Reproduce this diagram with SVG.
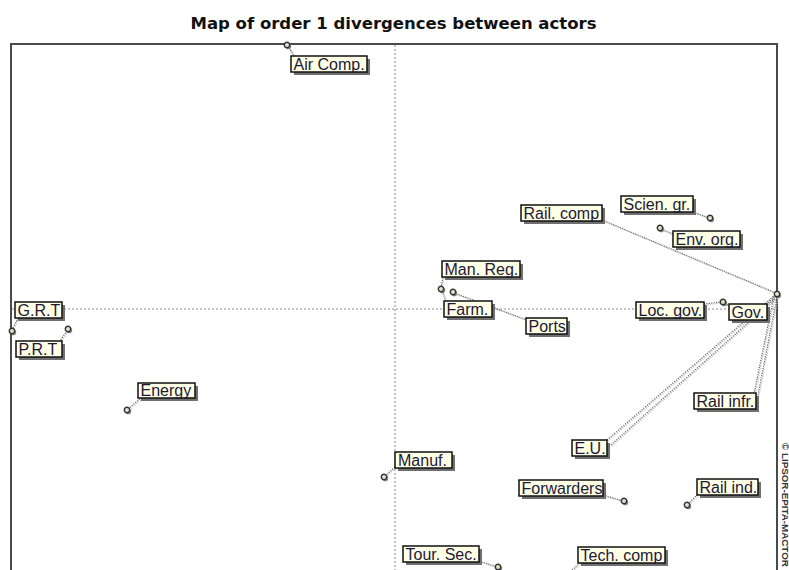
<svg xmlns="http://www.w3.org/2000/svg" xmlns:xlink="http://www.w3.org/1999/xlink" width="789" height="570" viewBox="0 0 789 570">
  <style>
    .title { font-family: "DejaVu Sans", "Liberation Sans", sans-serif; font-weight: bold; font-size: 15px; fill: #111; }
    .frame { stroke: #4a4a4a; stroke-width: 2; fill: none; }
    .axis { stroke: #8c8c8c; stroke-width: 1; stroke-dasharray: 2 2; fill: none; }
    .box { fill: #ffffe6; stroke: #111; stroke-width: 1.5; }
    .shadow { fill: #707070; filter: url(#soft); }
    .lbl { font-family: "Liberation Sans", Arial, sans-serif; font-size: 16px; fill: #1c1838; }
    .lead { stroke: #666; stroke-width: 1.2; stroke-dasharray: 1.2 1.2; fill: none; }
    .copy { font-family: "Liberation Sans", Arial, sans-serif; font-weight: bold; font-size: 9.8px; fill: #333; }
  </style>
  <defs>
    <filter id="soft" x="-20%" y="-20%" width="140%" height="140%">
      <feGaussianBlur stdDeviation="0.7"/>
    </filter>
    <filter id="lineShadow" x="-5%" y="-5%" width="110%" height="110%">
      <feOffset in="SourceAlpha" dx="1.2" dy="1.2" result="off"/>
      <feFlood flood-color="#c4c4c4"/>
      <feComposite in2="off" operator="in" result="sh"/>
      <feMerge>
        <feMergeNode in="sh"/>
        <feMergeNode in="SourceGraphic"/>
      </feMerge>
    </filter>
    <!-- actor position marker -->
    <g id="dot">
      <circle cx="1.4" cy="1.4" r="2.8" fill="#8a8a8a"/>
      <circle cx="0" cy="0" r="2.7" fill="#e2e2cc" stroke="#333" stroke-width="1.4"/>
    </g>
  </defs>

  <rect width="789" height="570" fill="#ffffff"/>

  <text class="title" x="393.5" y="29" text-anchor="middle" textLength="406" lengthAdjust="spacingAndGlyphs">Map of order 1 divergences between actors</text>

  <!-- axes through the centre of the map -->
  <g id="axes">
    <line class="axis" x1="395" y1="45" x2="395" y2="570"/>
    <line class="axis" x1="12" y1="309" x2="776" y2="309"/>
  </g>

  <!-- plot frame -->
  <g id="frame">
    <path class="frame" d="M11,570 V44 H777 V570"/>
  </g>

  <text class="copy" transform="translate(781.5,443) rotate(90)">© LIPSOR-EPITA-MACTOR</text>

  <!-- leader lines and divergence links -->
  <g id="connectors" filter="url(#lineShadow)">
    <line class="lead" x1="288" y1="46" x2="294" y2="56"/>
    <line class="lead" x1="12" y1="330" x2="18" y2="318"/>
    <line class="lead" x1="67" y1="331" x2="60" y2="341"/>
    <line class="lead" x1="128" y1="409" x2="141" y2="398"/>
    <line class="lead" x1="441" y1="288" x2="443" y2="277"/>
    <line class="lead" x1="442" y1="291" x2="446" y2="301"/>
    <line class="lead" x1="454" y1="293" x2="527" y2="320"/>
    <line class="lead" x1="602" y1="220" x2="776" y2="293"/>
    <line class="lead" x1="693" y1="212" x2="709" y2="218"/>
    <line class="lead" x1="661" y1="229" x2="673" y2="234"/>
    <line class="lead" x1="704" y1="304" x2="721" y2="302"/>
    <line class="lead" x1="725" y1="303" x2="730" y2="307"/>
    <line class="lead" x1="776" y1="295" x2="766" y2="305"/>
    <line class="lead" x1="607" y1="440" x2="775" y2="295"/>
    <line class="lead" x1="611" y1="445" x2="777" y2="297"/>
    <line class="lead" x1="754" y1="394" x2="774" y2="296"/>
    <line class="lead" x1="758" y1="395" x2="777" y2="297"/>
    <line class="lead" x1="385" y1="476" x2="395" y2="467"/>
    <line class="lead" x1="603" y1="495" x2="623" y2="501"/>
    <line class="lead" x1="688" y1="504" x2="698" y2="494"/>
    <line class="lead" x1="479" y1="561" x2="497" y2="567"/>
    <line class="lead" x1="580" y1="563" x2="572" y2="570"/>
  </g>

  <!-- actors -->
  <g id="air-comp">
    <use xlink:href="#dot" x="287" y="45"/>
    <rect class="shadow" x="294" y="59" width="76" height="16"/>
    <rect class="box" x="291" y="56" width="76" height="16"/>
    <text class="lbl" x="293.5" y="69.5">Air Comp.</text>
  </g>

  <g id="grt">
    <use xlink:href="#dot" x="12" y="331"/>
    <rect class="shadow" x="18" y="305" width="47" height="16"/>
    <rect class="box" x="15" y="302" width="47" height="16"/>
    <text class="lbl" x="17.5" y="315.5">G.R.T</text>
  </g>

  <g id="prt">
    <use xlink:href="#dot" x="68" y="329"/>
    <rect class="shadow" x="19" y="344" width="46" height="16"/>
    <rect class="box" x="16" y="341" width="46" height="16"/>
    <text class="lbl" x="18.5" y="354.5">P.R.T</text>
  </g>

  <g id="energy">
    <use xlink:href="#dot" x="127" y="410"/>
    <rect class="shadow" x="141" y="386" width="57" height="15"/>
    <rect class="box" x="138" y="383" width="57" height="15"/>
    <text class="lbl" x="140.5" y="396">Energy</text>
  </g>

  <g id="man-reg">
    <use xlink:href="#dot" x="441" y="289"/>
    <rect class="shadow" x="445" y="264" width="78" height="16"/>
    <rect class="box" x="442" y="261" width="78" height="16"/>
    <text class="lbl" x="444.5" y="274.5">Man. Reg.</text>
  </g>

  <g id="farm">
    <rect class="shadow" x="447" y="304" width="48" height="16"/>
    <rect class="box" x="444" y="301" width="48" height="16"/>
    <text class="lbl" x="446.5" y="314.5">Farm.</text>
  </g>

  <g id="ports">
    <use xlink:href="#dot" x="453" y="292"/>
    <rect class="shadow" x="529" y="321" width="41" height="16"/>
    <rect class="box" x="526" y="318" width="41" height="16"/>
    <text class="lbl" x="528.5" y="331.5">Ports</text>
  </g>

  <g id="rail-comp">
    <rect class="shadow" x="524" y="208" width="81" height="16"/>
    <rect class="box" x="521" y="205" width="81" height="16"/>
    <text class="lbl" x="523.5" y="218.5">Rail. comp</text>
  </g>

  <g id="scien-gr">
    <use xlink:href="#dot" x="710" y="218"/>
    <rect class="shadow" x="624" y="199" width="72" height="16"/>
    <rect class="box" x="621" y="196" width="72" height="16"/>
    <text class="lbl" x="623.5" y="209.5">Scien. gr.</text>
  </g>

  <g id="env-org">
    <use xlink:href="#dot" x="660" y="228"/>
    <rect class="shadow" x="676" y="234" width="67" height="16"/>
    <rect class="box" x="673" y="231" width="67" height="16"/>
    <text class="lbl" x="675.5" y="244.5">Env. org.</text>
  </g>

  <g id="loc-gov">
    <use xlink:href="#dot" x="723" y="302"/>
    <rect class="shadow" x="639" y="305" width="68" height="16"/>
    <rect class="box" x="636" y="302" width="68" height="16"/>
    <text class="lbl" x="638.5" y="315.5">Loc. gov.</text>
  </g>

  <g id="gov">
    <rect class="shadow" x="732" y="307" width="38" height="16"/>
    <rect class="box" x="729" y="304" width="38" height="16"/>
    <text class="lbl" x="731.5" y="317.5">Gov.</text>
    <use xlink:href="#dot" x="777" y="294"/>
  </g>

  <g id="rail-infr">
    <rect class="shadow" x="697" y="396" width="62" height="16"/>
    <rect class="box" x="694" y="393" width="62" height="16"/>
    <text class="lbl" x="696.5" y="406.5">Rail infr.</text>
  </g>

  <g id="eu">
    <rect class="shadow" x="575" y="443" width="35" height="16"/>
    <rect class="box" x="572" y="440" width="35" height="16"/>
    <text class="lbl" x="574.5" y="453.5">E.U.</text>
  </g>

  <g id="manuf">
    <use xlink:href="#dot" x="384" y="477"/>
    <rect class="shadow" x="398" y="455" width="57" height="16"/>
    <rect class="box" x="395" y="452" width="57" height="16"/>
    <text class="lbl" x="398" y="465.5">Manuf.</text>
  </g>

  <g id="forwarders">
    <use xlink:href="#dot" x="624" y="501"/>
    <rect class="shadow" x="522" y="483" width="84" height="16"/>
    <rect class="box" x="519" y="480" width="84" height="16"/>
    <text class="lbl" x="521.5" y="493.5">Forwarders</text>
  </g>

  <g id="rail-ind">
    <use xlink:href="#dot" x="687" y="505"/>
    <rect class="shadow" x="700" y="482" width="61" height="16"/>
    <rect class="box" x="697" y="479" width="61" height="16"/>
    <text class="lbl" x="699.5" y="492.5">Rail ind.</text>
  </g>

  <g id="tour-sec">
    <use xlink:href="#dot" x="498" y="567"/>
    <rect class="shadow" x="406" y="549" width="76" height="16"/>
    <rect class="box" x="403" y="546" width="76" height="16"/>
    <text class="lbl" x="405.5" y="559.5">Tour. Sec.</text>
  </g>

  <g id="tech-comp">
    <rect class="shadow" x="581" y="550" width="87" height="16"/>
    <rect class="box" x="578" y="547" width="87" height="16"/>
    <text class="lbl" x="580.5" y="560.5">Tech. comp</text>
  </g>
</svg>
